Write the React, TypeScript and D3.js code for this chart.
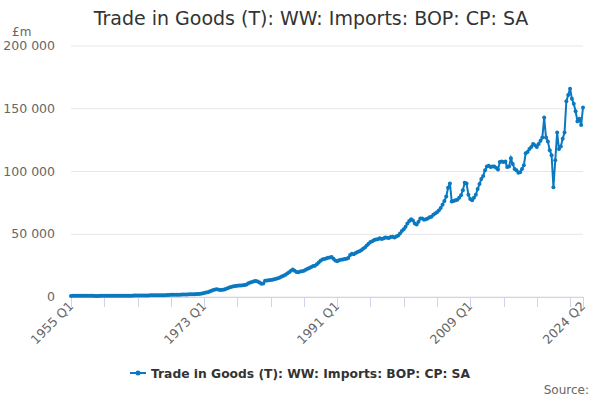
import * as d3 from 'd3'

// Quarterly values, £m, 1955 Q1 .. 2024 Q2 (one line per year)
const imports: number[] = [
  880, 900, 920, 930,
  910, 900, 910, 920,
  940, 950, 960, 950,
  900, 880, 870, 880,
  900, 920, 950, 980,
  1020, 1040, 1040, 1050,
  1040, 1030, 1020, 1010,
  1030, 1040, 1050, 1060,
  1070, 1090, 1110, 1140,
  1190, 1230, 1250, 1280,
  1260, 1270, 1290, 1300,
  1320, 1340, 1330, 1310,
  1380, 1400, 1420, 1480,
  1620, 1650, 1700, 1720,
  1730, 1780, 1810, 1850,
  1900, 1950, 2000, 2050,
  2100, 2150, 2200, 2250,
  2300, 2450, 2600, 2800,
  3100, 3500, 3800, 4300,
  5000, 5500, 5900, 6100,
  5800, 5500, 5700, 6000,
  6600, 7200, 7700, 8200,
  8500, 8800, 9000, 9100,
  9200, 9300, 9500, 10000,
  11000, 11500, 12000, 12500,
  12800, 12300, 11500, 10500,
  10800, 13000, 13200, 13300,
  13500, 13700, 14200, 14500,
  15000, 15600, 16300, 17000,
  17800, 18700, 19800, 21000,
  22000, 21000, 20000, 19800,
  20300, 20500, 21000, 21800,
  22500, 23200, 24000, 24800,
  25000, 26000, 27500, 28800,
  29800, 30200, 30600, 31200,
  31500, 31900, 30500, 29000,
  28500, 29200, 29600, 29800,
  30200, 30500, 31000, 33500,
  34500, 34000, 35000, 35800,
  36500, 37200, 38500, 39500,
  41000, 42500, 43800, 44500,
  45500, 45800, 46000, 46800,
  46300, 46700, 47500, 47200,
  47000, 47800, 48000, 47500,
  48200, 49000, 50500, 52500,
  54000, 56000, 58500, 60500,
  62000, 61000, 58500, 57800,
  60000, 62500, 62500, 61500,
  62000, 62500, 63500, 64000,
  65500, 66500, 67500, 69000,
  71000, 73500, 76500, 80000,
  87000, 90500, 76000, 76500,
  77000, 77500, 79000, 81000,
  85000, 91000, 90500, 81500,
  78000, 77000, 79000, 81500,
  86000, 90000, 94000, 96500,
  101000, 104000, 104500, 103500,
  104000, 104000, 103000, 101500,
  107500, 108000, 107500, 108000,
  103500, 104000, 110500, 106000,
  102000, 101000, 99000, 99500,
  102000, 105000, 114500, 115500,
  118000, 119500, 122000, 121000,
  119500, 122000, 124500, 127000,
  143000, 127000, 124000, 117000,
  113000, 87500, 109000, 131000,
  118000, 120000, 126000, 131000,
  156000, 161000, 166000, 158000,
  154000, 148000, 140000, 142000,
  137000, 151000,
]

const firstYear = 1955
const quarters: string[] = imports.map(
  (_, i) => `${firstYear + Math.floor(i / 4)} Q${(i % 4) + 1}`
)
const xTickLabels = ['1955 Q1', '1973 Q1', '1991 Q1', '2009 Q1', '2024 Q2']
const yTicks = [0, 50000, 100000, 150000, 200000]

const title = 'Trade in Goods (T): WW: Imports: BOP: CP: SA'
const seriesName = 'Trade in Goods (T): WW: Imports: BOP: CP: SA'
const blue = '#0b79c0'
const font = 'DejaVu Sans, sans-serif'

export default function App() {
  const left = 71
  const right = 583
  const top = 46
  const bottom = 297

  const x = d3.scalePoint<string>().domain(quarters).range([left, right])
  const y = d3.scaleLinear().domain([0, 200000]).range([bottom, top])

  const line = d3
    .line<number>()
    .x((_, i) => x(quarters[i]) as number)
    .y((d) => y(d))

  // minor tick marks every 18 quarters, plus the last quarter
  const tickIdx = d3.range(0, quarters.length, 18).concat([quarters.length - 1])

  const fmt = (v: number) => d3.format(',')(v).replace(/,/g, ' ')

  return (
    <svg
      width={600}
      height={400}
      style={{ position: 'absolute', left: 0, top: 0, fontFamily: font }}
    >
      <rect width={600} height={400} fill="#fff" />
      <text x={311} y={25} textAnchor="middle" fontSize={19} fill="#333">
        {title}
      </text>
      <text x={12} y={36} fontSize={12} fill="#666">
        £m
      </text>

      {yTicks.map((t) => (
        <g key={t}>
          <line x1={left} x2={right} y1={y(t)} y2={y(t)} stroke="#e6e6e6" />
          <text x={55} y={y(t) + 4} textAnchor="end" fontSize={12.5} fill="#666">
            {fmt(t)}
          </text>
        </g>
      ))}

      <line x1={left} x2={right} y1={bottom + 0.5} y2={bottom + 0.5} stroke="#ccd6eb" />
      {tickIdx.map((i) => (
        <line
          key={i}
          x1={Math.round(x(quarters[i]) as number) + 0.5}
          x2={Math.round(x(quarters[i]) as number) + 0.5}
          y1={bottom}
          y2={bottom + 10}
          stroke="#ccd6eb"
        />
      ))}
      {xTickLabels.map((lab) => {
        const px = x(lab) as number
        return (
          <text
            key={lab}
            transform={`translate(${px + 3},${bottom + 10}) rotate(-45)`}
            textAnchor="end"
            fontSize={12.5}
            fill="#666"
          >
            {lab}
          </text>
        )
      })}

      <path d={line(imports) ?? ''} fill="none" stroke={blue} strokeWidth={2} />
      {imports.map((v, i) => (
        <circle key={i} cx={x(quarters[i])} cy={y(v)} r={2} fill={blue} />
      ))}

      <g>
        <line x1={130} x2={146} y1={373} y2={373} stroke={blue} strokeWidth={2} />
        <circle cx={138} cy={373} r={2.5} fill={blue} />
        <text x={151} y={378} fontSize={12.3} fontWeight="bold" fill="#333">
          {seriesName}
        </text>
      </g>

      <text x={589} y={394} textAnchor="end" fontSize={12} fill="#666">
        Source:
      </text>
    </svg>
  )
}
